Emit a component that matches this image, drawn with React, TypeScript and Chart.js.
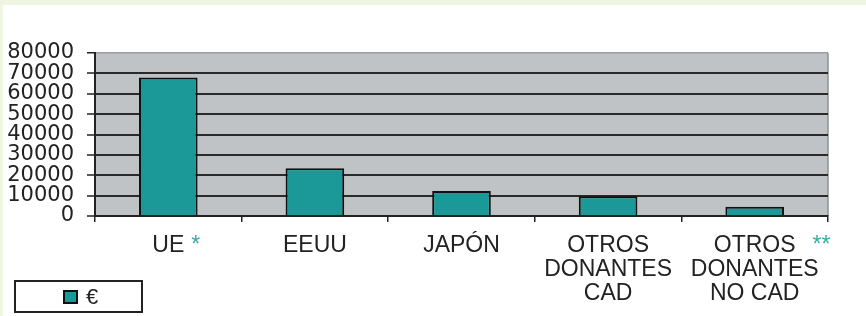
import React, { useEffect, useRef } from "react";
import { Chart, registerables } from "chart.js";

Chart.register(...registerables);

const categories: string[][] = [
  ["UE"],
  ["EEUU"],
  ["JAPÓN"],
  ["OTROS", "DONANTES", "CAD"],
  ["OTROS", "DONANTES", "NO CAD"],
];
const notes: string[] = ["*", "", "", "", "**"];
const seriesName = "€";
const values: number[] = [68000, 23400, 12300, 9700, 4500];
const yMin = 0;
const yMax = 80000;
const yStep = 10000;

const TEAL = "#1b9898";
const INK = "#222222";
const PLOT_BG = "#c0c3c6";
const X_FONT = { family: "'Liberation Sans', Arial, sans-serif", size: 23, lineHeight: 1.06 };
const NOTE_GAPS = [7, 0, 0, 0, 17];

const plotBg = {
  id: "plotBg",
  beforeDraw(chart: any) {
    const { ctx, chartArea: a } = chart;
    ctx.save();
    ctx.fillStyle = PLOT_BG;
    ctx.fillRect(a.left, a.top, a.right - a.left, a.bottom - a.top);
    ctx.strokeStyle = "#8f9193";
    ctx.lineWidth = 1.5;
    ctx.beginPath();
    ctx.moveTo(a.right, a.top);
    ctx.lineTo(a.right, a.bottom);
    ctx.stroke();
    ctx.restore();
  },
};

const notePlugin = {
  id: "notes",
  afterDraw(chart: any) {
    const { ctx } = chart;
    const xs = chart.scales.x;
    const tl = xs.options.grid.tickLength + xs.options.ticks.padding;
    const lh = X_FONT.size * X_FONT.lineHeight;
    const y = xs.top + tl + lh / 2;
    ctx.save();
    ctx.font = `${X_FONT.size}px ${X_FONT.family}`;
    ctx.textBaseline = "middle";
    ctx.textAlign = "left";
    ctx.fillStyle = "#3aa9a9";
    notes.forEach((n, i) => {
      if (!n) return;
      const cx = xs.getPixelForTick(i);
      const w = ctx.measureText(categories[i][0]).width;
      ctx.fillText(n, cx + w / 2 + NOTE_GAPS[i], y);
    });
    ctx.restore();
  },
};

export default function App() {
  const ref = useRef<HTMLCanvasElement>(null);
  useEffect(() => {
    if (!ref.current) return;
    const chart = new Chart(ref.current, {
      type: "bar",
      data: {
        labels: categories,
        datasets: [
          {
            label: seriesName,
            data: values,
            backgroundColor: TEAL,
            borderColor: "#111",
            borderWidth: 2,
            barPercentage: 0.4,
            categoryPercentage: 1,
          },
        ],
      },
      options: {
        responsive: false,
        animation: false,
        layout: { padding: { top: 48, right: 38, left: 0, bottom: 0 } },
        plugins: { legend: { display: false }, tooltip: { enabled: false } },
        scales: {
          x: {
            grid: {
              drawOnChartArea: false,
              drawTicks: true,
              tickLength: 6,
              color: INK,
              lineWidth: 1.5,
            },
            border: { color: INK, width: 2 },
            ticks: {
              color: INK,
              padding: 11,
              maxRotation: 0,
              autoSkip: false,
              font: X_FONT,
            },
            afterFit(scale: any) {
              scale.height = 100;
            },
          },
          y: {
            min: yMin,
            max: yMax,
            grid: {
              color: (c: any) => (c.tick && c.tick.value === yMax ? "#9a9c9e" : "#2a2a2a"),
              lineWidth: (c: any) => (c.tick && c.tick.value === yMax ? 1.5 : 2),
              tickLength: 8,
              tickColor: INK,
              tickWidth: 1.5,
            },
            border: { color: INK, width: 2 },
            ticks: {
              stepSize: yStep,
              autoSkip: false,
              color: INK,
              padding: 13,
              font: { family: "'DejaVu Sans', sans-serif", size: 21, lineHeight: 1 },
              callback: (v: any) => String(v),
            },
            afterFit(scale: any) {
              scale.width = 92;
            },
          },
        },
      },
      plugins: [plotBg, notePlugin],
    });
    return () => chart.destroy();
  }, []);

  return (
    <div style={{ position: "fixed", inset: 0, background: "#eef5e1" }}>
      <div
        style={{
          position: "absolute",
          left: 3,
          top: 5,
          width: 863,
          height: 311,
          background: "#ffffff",
        }}
      >
        <canvas ref={ref} width={863} height={311} style={{ display: "block" }} />
        <div
          style={{
            position: "absolute",
            left: 11,
            top: 275,
            width: 129,
            height: 33,
            boxSizing: "border-box",
            border: "2px solid #222",
            display: "flex",
            alignItems: "center",
            paddingLeft: 47,
            fontFamily: "'Liberation Sans', Arial, sans-serif",
            fontSize: 22,
            color: INK,
          }}
        >
          <span
            style={{
              display: "inline-block",
              width: 15,
              height: 14,
              boxSizing: "border-box",
              background: TEAL,
              border: "2px solid #111",
              marginRight: 8,
            }}
          />
          <span>{seriesName}</span>
        </div>
      </div>
    </div>
  );
}
